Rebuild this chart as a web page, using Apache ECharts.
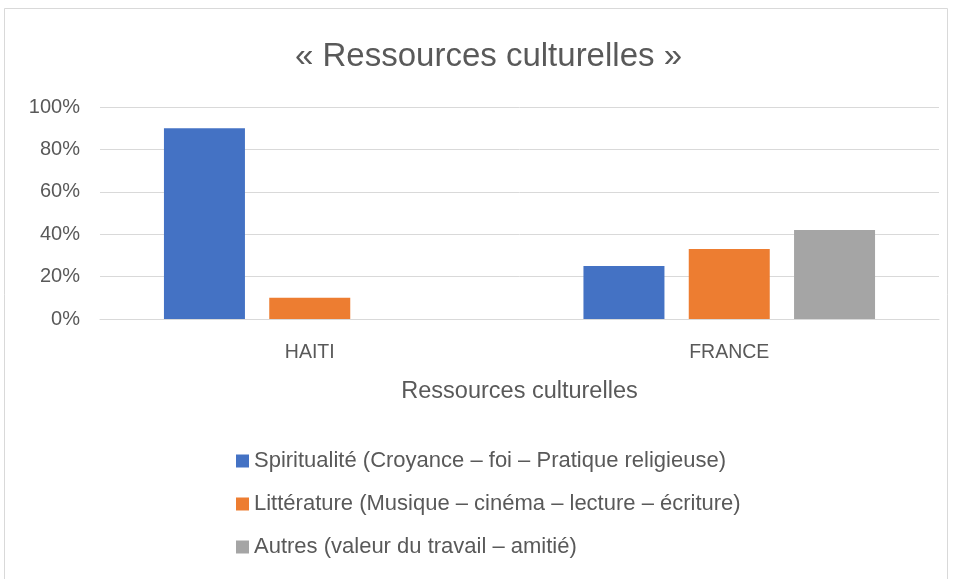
<!DOCTYPE html>
<html>
<head>
<meta charset="utf-8">
<script src="https://cdn.jsdelivr.net/npm/echarts@6/dist/echarts.min.js"></script>
<style>
	html, body { margin: 0; padding: 0; background: #fff; }
	#chart { width: 958px; height: 579px; }
</style>
</head>
<body>
<div id="chart"></div>
<script>
	var categories = ['HAITI', 'FRANCE'];
	var seriesNames = [
		'Spiritualité (Croyance – foi – Pratique religieuse)',
		'Littérature (Musique – cinéma – lecture – écriture)',
		'Autres (valeur du travail – amitié)'
	];
	var spiritualite = [0.90, 0.25];
	var litterature = [0.10, 0.33];
	var autres = [0, 0.42];
	var colors = ['#4472c4', '#ed7d31', '#a5a5a5'];

	var font = 'Liberation Sans, Arial, sans-serif';
	var Chart = echarts.init(document.getElementById('chart'));
	var option = {
		backgroundColor: '#fff',
		animation: false,
		color: colors,
		graphic: [{
			type: 'rect',
			shape: { x: 4.5, y: 8.5, width: 943, height: 620 },
			style: { fill: 'none', stroke: '#d9d9d9', lineWidth: 1 },
			silent: true
		}],
		title: {
			text: '« Ressources culturelles »',
			left: 290,
			top: 35,
			textStyle: {
				color: '#595959',
				fontFamily: font,
				fontWeight: 'normal',
				fontSize: 33
			}
		},
		legend: {
			orient: 'vertical',
			left: 231,
			top: 445,
			icon: 'rect',
			itemWidth: 13,
			itemHeight: 13,
			itemGap: 21,
			textStyle: {
				color: '#595959',
				fontFamily: font,
				fontSize: 22,
				lineHeight: 22
			},
			data: seriesNames
		},
		grid: {
			left: 100,
			right: 19,
			top: 107,
			height: 212
		},
		xAxis: {
			type: 'category',
			data: categories,
			name: 'Ressources culturelles',
			nameLocation: 'middle',
			nameGap: 61,
			nameTextStyle: {
				color: '#595959',
				fontFamily: font,
				fontSize: 23.5
			},
			axisLine: { lineStyle: { color: '#d9d9d9' } },
			axisTick: { show: false },
			axisLabel: {
				color: '#595959',
				fontFamily: font,
				fontSize: 19.5,
				margin: 24
			}
		},
		yAxis: {
			type: 'value',
			min: 0,
			max: 1,
			interval: 0.2,
			axisLine: { show: false },
			axisTick: { show: false },
			splitLine: { lineStyle: { color: '#d9d9d9' } },
			axisLabel: {
				color: '#595959',
				fontFamily: font,
				fontSize: 20,
				margin: 20,
				formatter: function(v) {
					return Math.round(v * 100) + '%';
				}
			}
		},
		series: [{
			name: seriesNames[0],
			type: 'bar',
			data: spiritualite,
			barWidth: 81,
			barGap: '30%'
		}, {
			name: seriesNames[1],
			type: 'bar',
			data: litterature,
			barWidth: 81,
			barGap: '30%'
		}, {
			name: seriesNames[2],
			type: 'bar',
			data: autres,
			barWidth: 81,
			barGap: '30%'
		}]
	};
	Chart.setOption(option);
</script>
</body>
</html>
